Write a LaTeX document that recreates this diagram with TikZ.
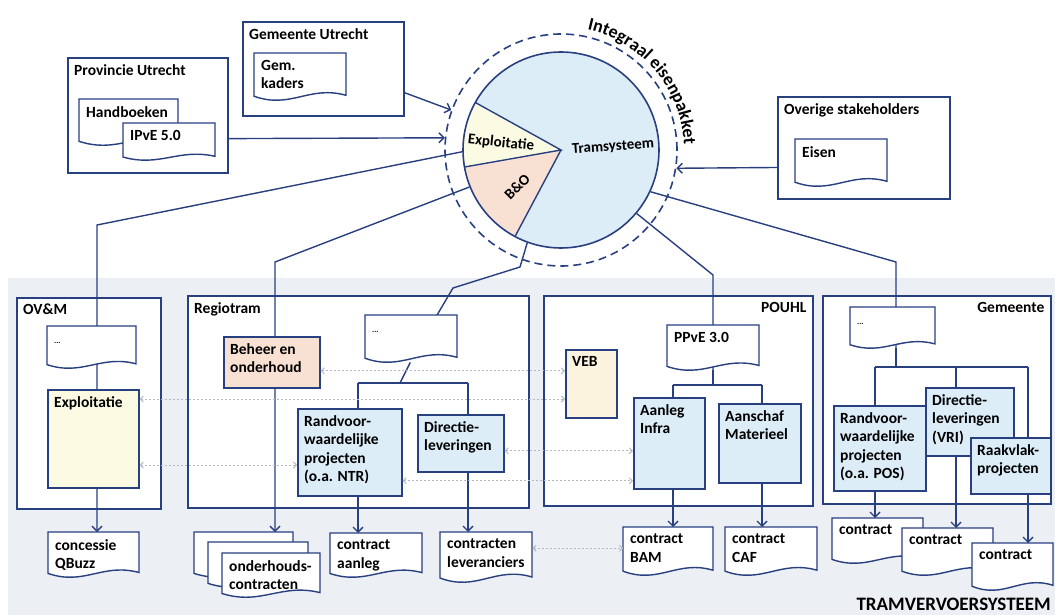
\documentclass[tikz,border=0pt]{standalone}
\usepackage{fontspec}
\setmainfont{Carlito}
\usetikzlibrary{arrows.meta,calc,decorations.text}
\definecolor{navy}{HTML}{283F80}
\definecolor{band}{HTML}{ECEFF3}
\definecolor{tblue}{HTML}{DCEDF8}
\definecolor{byel}{HTML}{FBFAE3}
\definecolor{vebc}{HTML}{FBF3DE}
\definecolor{peach}{HTML}{F8E1D3}
\definecolor{dgray}{HTML}{B4B9C3}
\pgfdeclarelayer{bg}\pgfdeclarelayer{lines}\pgfsetlayers{bg,lines,main}
\tikzset{
 ln/.style={draw=navy, line width=1.4pt},
 arr/.style={ln, -{Straight Barb[length=5pt,width=10pt]}},
 dotarr/.style={draw=dgray, line width=1pt, dash pattern=on 2pt off 2pt, {Straight Barb[length=3pt,width=6pt]}-{Straight Barb[length=3pt,width=6pt]}},
 grp/.style={draw=navy, line width=1.6pt, fill=white, inner sep=0pt, anchor=north west},
 boxst/.style={draw=navy, line width=1.6pt},
 docline/.style={draw=navy, line width=1.4pt},
 txt/.style={inner xsep=7pt, inner ysep=7pt, align=left, font=\bfseries\fontsize{15.5}{18.5}\selectfont},
 pt/.style={inner sep=0pt, font=\bfseries\fontsize{15}{15}\selectfont},
}
\newcommand\bx[7][white]{%
 \node[boxst, fill=#1, anchor=north west, inner sep=0pt, minimum width={(#5-#3)*1pt}, minimum height={(#6-#4)*1pt}] (#2) at (#3,#4) {};
 \node[txt, anchor=north west] (#2-t) at (#2.north west) {#7};}
\newcommand\dc[7][white]{%
 \filldraw[docline, fill=#1] (#3,#4) -- (#5,#4) -- (#5,{#6-0.1*(#6-#4)}) .. controls ({#3+0.6*(#5-#3)},{#6-0.32*(#6-#4)}) and ({#3+0.4*(#5-#3)},{#6+0.2*(#6-#4)}) .. (#3,{#6-0.08*(#6-#4)}) -- cycle;
 \node[anchor=north west, inner sep=0pt, minimum width={(#5-#3)*1pt}, minimum height={(#6-#4)*1pt}] (#2) at (#3,#4) {};
 \node[txt, anchor=north west] (#2-t) at (#2.north west) {#7};}
\newcommand\gp[5]{%
 \node[grp, minimum width={(#4-#2)*1pt}, minimum height={(#5-#3)*1pt}] (#1) at (#2,#3) {};}
\newcommand\ddd{\vphantom{Ap}{\fontsize{8}{8}\selectfont...}}
\begin{document}
\begin{tikzpicture}[x=1pt,y=-1pt]
\useasboundingbox (0,0) rectangle (1055,615);
\begin{pgfonlayer}{bg}
\fill[band] (8,278) rectangle (1055,615);
\gp{ovm}{16}{297}{160}{508}
\gp{rt}{187}{295}{528}{507}
\gp{po}{543}{295}{812}{505}
\gp{gm}{822}{295}{1050}{503}
\end{pgfonlayer}
% top groups
\gp{pu}{67}{57}{227}{172}
\node[txt, anchor=north west] (pu-t) at (pu.north west) {Provincie Utrecht};
\dc{hb}{79}{99}{178}{145}{Handboeken}
\dc{ipve}{123}{123}{215}{160}{IPvE 5.0}
\gp{gu}{242}{21}{403}{115}
\node[txt, anchor=north west] (gu-t) at (gu.north west) {Gemeente Utrecht};
\dc{gk}{254}{53}{346}{100}{Gem.\\kaders}
\gp{os}{777}{96}{949}{198}
\node[txt, anchor=north west] (os-t) at (os.north west) {Overige stakeholders};
\dc{eis}{795}{139}{887}{186}{Eisen}
% pie
\begin{scope}[shift={(561,150)}, x=1pt, y=1pt]
 \fill[tblue] (0,0) circle[radius=98];
 \fill[byel] (0,0) -- (151:98) arc[start angle=151, end angle=190, radius=98] -- cycle;
 \fill[peach] (0,0) -- (190:98) arc[start angle=190, end angle=242, radius=98] -- cycle;
 \draw[ln] (151:98) -- (0,0) -- (190:98);
 \draw[ln] (0,0) -- (242:98);
 \node[circle, draw=navy, line width=1.6pt, minimum size=196pt, inner sep=0pt] (pie) at (0,0) {};
 \node[circle, draw=navy, line width=1.6pt, dash pattern=on 8pt off 5pt, minimum size=232pt, inner sep=0pt] (ring) at (0,0) {};
 \path[decorate, decoration={text along path, text={|\bfseries\fontsize{18}{18}\selectfont|Integraal eisenpakket}, text align=center}] (80:123) arc[start angle=80, end angle=0, radius=123];
 \node[pt, rotate=-6] (ptx) at (-60,7) {Exploitatie};
 \node[pt, rotate=4] (pts) at (52,3) {Tramsysteem};
 \node[pt, rotate=45] (pbo) at (-44,-37) {B\&O};
\end{scope}
% OV&M
\node[txt, anchor=north west] (ovm-t) at (ovm.north west) {OV\&M};
\dc{odots}{47}{326}{136}{368}{\ddd}
\bx[byel]{oexp}{47}{389}{138}{487}{Exploitatie}
\dc{qbuzz}{48}{532}{139}{577}{concessie\\QBuzz}
% Regiotram
\node[txt, anchor=north west] (rt-t) at (rt.north west) {Regiotram};
\bx[peach]{beo}{223}{336}{319}{387}{Beheer en\\onderhoud}
\dc{rdots}{365}{315}{457}{362}{\ddd}
\bx[tblue]{rrand}{297}{408}{401}{495}{Randvoor-\\waardelijke\\projecten\\(o.a. NTR)}
\bx[tblue]{rdir}{417}{414}{503}{471}{Directie-\\leveringen}
\dc{ohc1}{194}{532}{293}{577}{}
\dc{ohc2}{208}{542}{308}{587}{}
\dc{ohc3}{222}{553}{320}{597}{onderhouds-\\contracten}
\dc{ca}{330}{533}{422}{577}{contract\\aanleg}
\dc{cl}{440}{532}{532}{582}{contracten\\leveranciers}
% POUHL
\node[txt, anchor=north east] (po-t) at (po.north east) {POUHL};
\bx[vebc]{veb}{565}{349}{616}{417}{VEB}
\dc{pdots}{667}{325}{759}{370}{PPvE 3.0}
\bx[tblue]{ainf}{633}{397}{704}{488}{Aanleg\\Infra}
\bx[tblue]{amat}{718}{403}{800}{482}{Aanschaf\\Materieel}
\dc{bam}{623}{527}{713}{575}{contract\\BAM}
\dc{caf}{725}{527}{817}{575}{contract\\CAF}
% Gemeente
\node[txt, anchor=north east] (gm-t) at (gm.north east) {Gemeente};
\dc{gdots}{850}{307}{935}{348}{\ddd}
\bx[tblue]{grand}{833}{405}{925}{490}{Randvoor-\\waardelijke\\projecten\\(o.a. POS)}
\bx[tblue]{gdir}{925}{387}{1013}{455}{Directie-\\leveringen\\(VRI)}
\bx[tblue]{grk}{970}{437}{1050}{493}{Raakvlak-\\projecten}
\dc{gc1}{832}{518}{923}{563}{contract}
\dc{gc2}{902}{528}{993}{575}{contract}
\dc{gc3}{972}{543}{1053}{590}{contract}
\node[font=\bfseries\fontsize{19}{19}\selectfont, anchor=base east, inner sep=0pt] (tvs) at (1051,610) {TRAMVERVOERSYSTEEM};
% connectors
\begin{pgfonlayer}{lines}
\draw[arr] ($(gu.north east)!0.75!(gu.south east)$) -- (ring.160);
\draw[arr] ($(pu.north east)!0.7!(pu.south east)$) -- (ring.174);
\draw[arr] ($(os.north west)!0.69!(os.south west)$) -- (ring.-9);
\coordinate (ob) at (97,225);
\draw[arr] (pie.181) -- (ob) -- (ob |- qbuzz.north);
\coordinate (bb) at (275,262);
\draw[arr] (pie.202) -- (bb) -- (bb |- ohc1.north);
\coordinate (r1) at (520,267); \coordinate (r2) at (453,288);
\draw[ln] (pie.250) -- (r1) -- (r2) -- ($(rdots.north west)!0.78!(rdots.north east)$);
\coordinate (rj0) at (400,383); \coordinate (rj1) at (358,383); \coordinate (rj2) at (468,383);
\draw[ln] ($(rdots.south west)!0.49!(rdots.south east)$) -- (rj0);
\draw[ln] (rj1) -- (rj2);
\draw[arr] (rj1) -- (rj1 |- ca.north);
\draw[arr] (rj2) -- (rj2 |- cl.north);
\coordinate (pb) at (713,275);
\draw[ln] (pie.320) -- (pb) -- (pb |- pdots.south);
\coordinate (pj1) at (673,385); \coordinate (pj2) at (762,385);
\draw[ln] (pb |- pdots.south) -- (pb |- pj1);
\draw[ln] (pj1) -- (pj2);
\draw[arr] (pj1) -- (pj1 |- bam.north);
\draw[arr] (pj2) -- (pj2 |- caf.north);
\coordinate (gb) at (896,262);
\draw[ln] (pie.335) -- (gb) -- (gb |- gdots.south);
\coordinate (gj1) at (875,367); \coordinate (gj2) at (956,367); \coordinate (gj3) at (1028,367);
\draw[ln] (gb |- gdots.south) -- (gb |- gj1);
\draw[ln] (gj1) -- (gj3);
\draw[arr] (gj1) -- (gj1 |- gc1.north);
\draw[arr] (gj2) -- (gj2 |- gc2.north);
\draw[arr] (gj3) -- (gj3 |- gc3.north);
\end{pgfonlayer}
% dotted relations
\draw[dotarr] ($(oexp.north east)+(0,10)$) coordinate (d1) -- (d1 -| veb.west);
\draw[dotarr] ($(beo.east)+(0,8.5)$) coordinate (d2) -- (d2 -| veb.west);
\draw[dotarr] ($(oexp.north east)+(0,76)$) coordinate (d3) -- (d3 -| rrand.west);
\draw[dotarr] ($(rdir.east)+(0,7.5)$) coordinate (d4) -- (d4 -| ainf.west);
\draw[dotarr] ($(rrand.east)+(0,28.5)$) coordinate (d5) -- (d5 -| ainf.west);
\draw[dotarr] ($(cl.east)+(0,-9)$) coordinate (d6) -- (d6 -| bam.west);
\end{tikzpicture}
\end{document}
